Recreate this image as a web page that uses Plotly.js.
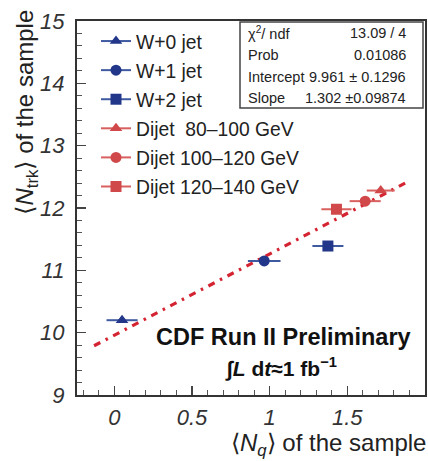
<!DOCTYPE html>
<html><head><meta charset="utf-8">
<script src="https://cdn.plot.ly/plotly-3.0.1.min.js"></script>
<style>html,body{margin:0;padding:0;background:#fff}#chart{width:428px;height:461px}</style>
</head><body><div id="chart"></div>
<script>
// Data
const seriesNames = ["W+0 jet","W+1 jet","W+2 jet","Dijet  80–100 GeV","Dijet 100–120 GeV","Dijet 120–140 GeV"];
const nq     = [0.05, 0.965, 1.375, 1.715, 1.615, 1.43];
const nqErr  = [0.10, 0.105, 0.10, 0.09, 0.10, 0.097];
const ntrk   = [10.2, 11.15, 11.39, 12.28, 12.11, 11.98];
const symbols = ["triangle-up","circle","square","triangle-up","circle","square"];
const groups = ["W","W","W","D","D","D"];
const fitX = [-0.13, 1.88];
const fitY = [9.79, 12.41];
const statsLabels = ["χ<sup>2</sup>/ ndf","Prob","Intercept","Slope"];
const statsValues = ["13.09 / 4","0.01086","9.961 ± 0.1296","1.302 ±0.09874"];
const xTicks = [0, 0.5, 1, 1.5, 2];
const xTickText = ["0","0.5","1","1.5","2"];
const yTicks = [9,10,11,12,13,14,15];

const blue = "#22378a", red = "#d0484a";
const blueLeg = "#3f5aa0", redLeg = "#d8605f";
const F = "Liberation Sans, Arial, sans-serif";

const traces = [];
traces.push({x: fitX, y: fitY, mode: "lines", showlegend: false, hoverinfo: "skip",
  line: {color: "#d42331", width: 3.2, dash: "7px,6px,2.5px,6px"}});
for (let i = 0; i < seriesNames.length; i++) {
  const c = groups[i] === "W" ? blue : red;
  traces.push({
    x: [nq[i]], y: [ntrk[i]], name: seriesNames[i], mode: "lines+markers",
    legendgroup: "g" + i,
    marker: {symbol: symbols[i], size: 11, color: c},
    line: {color: groups[i] === "W" ? blueLeg : redLeg, width: 2},
    error_x: {type: "data", array: [nqErr[i]], width: 0, thickness: 2, color: groups[i] === "W" ? blueLeg : redLeg}
  });
}

const L = 77, R = 425, T = 21, B = 395;
const px = x => (x - L) / (R - L);
const py = y => (B - y) / (B - T);

const ann = [];
const rowsY = [33, 55, 77, 98];
for (let i = 0; i < statsLabels.length; i++) {
  ann.push({xref: "paper", yref: "paper", x: px(246), y: py(rowsY[i]), xanchor: "left", yanchor: "middle",
    text: statsLabels[i], showarrow: false, font: {family: F, size: 14.5, color: "#222"}});
  ann.push({xref: "paper", yref: "paper", x: px(408), y: py(rowsY[i]), xanchor: "right", yanchor: "middle",
    text: statsValues[i], showarrow: false, font: {family: F, size: 14.5, color: "#222"}});
}
ann.push({xref: "paper", yref: "paper", x: px(283), y: py(337), xanchor: "center", yanchor: "middle",
  text: "<b>CDF Run II Preliminary</b>", showarrow: false, font: {family: F, size: 23.5, color: "#111"}});
ann.push({xref: "paper", yref: "paper", x: px(281), y: py(367), xanchor: "center", yanchor: "middle",
  text: "<b>∫<i>L</i> d<i>t</i>≈1 fb<sup>−1</sup></b>", showarrow: false, font: {family: F, size: 21, color: "#111"}});
ann.push({xref: "paper", yref: "paper", x: px(428), y: py(444), xanchor: "right", yanchor: "middle",
  text: "⟨<i>N<sub>q</sub></i>⟩ of the sample", showarrow: false, font: {family: F, size: 24, color: "#222"}});
ann.push({xref: "paper", yref: "paper", x: px(26), y: py(8), xanchor: "center", yanchor: "top", textangle: -90,
  text: "⟨<i>N</i><sub>trk</sub>⟩ of the sample", showarrow: false, font: {family: F, size: 24, color: "#222"}});

const layout = {
  width: 428, height: 461,
  margin: {l: L, r: 428 - R, t: T, b: 461 - B, pad: 0},
  paper_bgcolor: "#fff", plot_bgcolor: "#fff",
  showlegend: true,
  legend: {x: px(96), y: py(22), xanchor: "left", yanchor: "top", bgcolor: "rgba(0,0,0,0)",
    font: {family: F, size: 19.3, color: "#222"}, tracegroupgap: 1, traceorder: "grouped", itemwidth: 30},
  xaxis: {range: [-0.24, 2.0], showgrid: false, zeroline: false, showline: true, linewidth: 2.2, linecolor: "#333",
    mirror: true, ticks: "inside", ticklen: 9, tickwidth: 1.2, tickcolor: "#444",
    tickvals: xTicks, ticktext: xTickText, ticklabelstandoff: 1,
    tickfont: {family: F, size: 22, style: "italic", color: "#333"},
    minor: {dtick: 0.1, ticks: "inside", ticklen: 5, tickwidth: 1, tickcolor: "#555", showgrid: false}},
  yaxis: {range: [9, 15], showgrid: false, zeroline: false, showline: true, linewidth: 2.2, linecolor: "#333",
    mirror: true, ticks: "inside", ticklen: 9, tickwidth: 1.2, tickcolor: "#444",
    tickvals: yTicks, ticklabelstandoff: 6,
    tickfont: {family: F, size: 22, style: "italic", color: "#333"},
    minor: {dtick: 0.2, ticks: "inside", ticklen: 5, tickwidth: 1, tickcolor: "#555", showgrid: false}},
  shapes: [{type: "rect", xref: "paper", yref: "paper", x0: px(240), x1: px(423), y0: py(108), y1: py(22),
    line: {color: "#444", width: 1.5}, fillcolor: "rgba(255,255,255,0)"}],
  annotations: ann
};
Plotly.newPlot("chart", traces, layout, {displayModeBar: false, staticPlot: true});
</script></body></html>
